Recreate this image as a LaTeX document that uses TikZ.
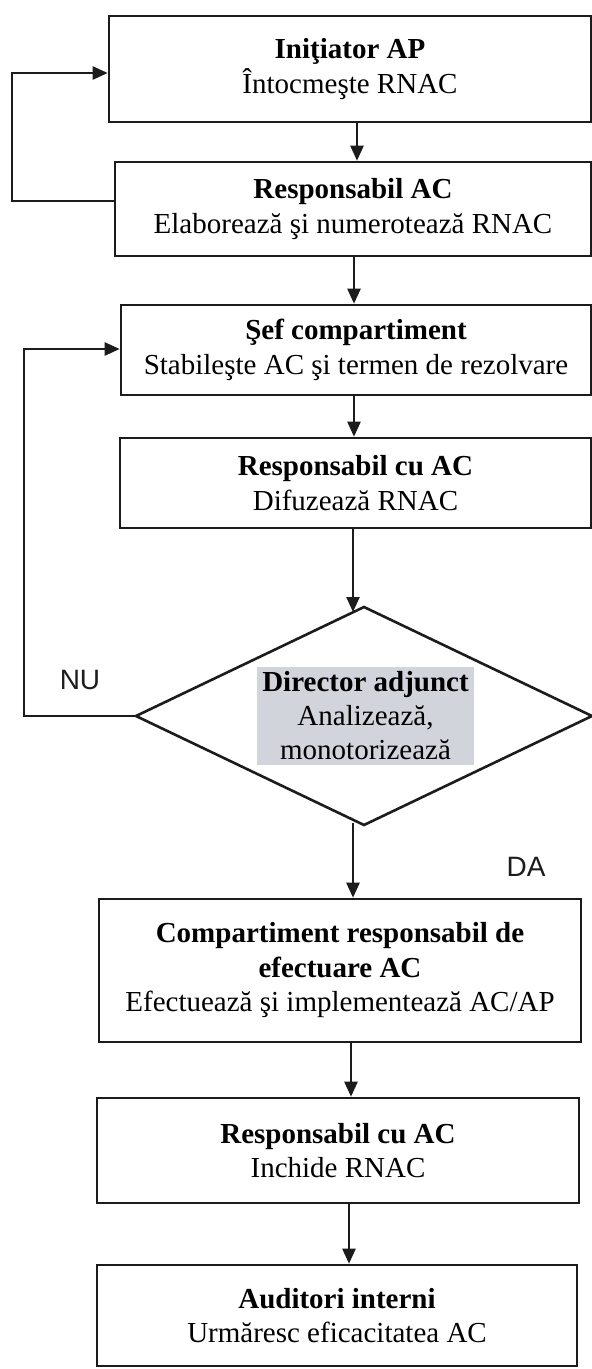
\documentclass[tikz,border=0pt]{standalone}
\usepackage{fontspec}
\setmainfont{Liberation Serif}
\newfontfamily\lsans{Liberation Sans}
\usetikzlibrary{arrows.meta,calc}
\definecolor{ink}{RGB}{28,28,28}
\definecolor{hl}{RGB}{210,212,220}
\begin{document}
\begin{tikzpicture}[x=1pt,y=1pt,
  box/.style={draw=ink, line width=2.6pt, inner sep=0pt, align=center,
    font=\fontsize{29}{34.5}\selectfont},
  arr/.style={draw=ink, line width=2.4pt, -{Triangle[length=15pt,width=13pt]}},
  lbl/.style={font=\lsans\fontsize{28}{30}\selectfont, text=ink, inner sep=0pt}]
\useasboundingbox (0,0) rectangle (592,-1369);
\fill[white] (0,0) rectangle (592,-1369);

% boxes
\node[box, minimum width=482pt, minimum height=106pt] (b1) at (350,-69)
  {\textbf{Iniţiator AP}\\Întocmeşte RNAC};
\node[box, minimum width=476pt, minimum height=94pt] (b2) at (353,-209)
  {\textbf{Responsabil AC}\\Elaborează şi numerotează RNAC};
\node[box, minimum width=470pt, minimum height=90pt] (b3) at (356,-350)
  {\textbf{Şef compartiment}\\Stabileşte AC şi termen de rezolvare};
\node[box, minimum width=471pt, minimum height=90pt] (b4) at (355.5,-483)
  {\textbf{Responsabil cu AC}\\Difuzează RNAC};

% decision diamond
\coordinate (dtop) at (364,-607);
\coordinate (dleft) at (136,-716);
\coordinate (dright) at (592,-716);
\coordinate (dbot) at (364,-825);
\draw[ink, line width=2.6pt, line join=miter] (dtop) -- (dright) -- (dbot) -- (dleft) -- cycle;
\node[fill=hl, inner sep=0pt, minimum width=217pt, minimum height=98pt, align=center,
  font=\fontsize{29}{34}\selectfont] (g) at (365.5,-716)
  {\textbf{Director adjunct}\\Analizează,\\monotorizează};

\node[box, minimum width=482pt, minimum height=143pt] (b5) at (340,-970.5)
  {\textbf{Compartiment responsabil de}\\\textbf{efectuare AC}\\Efectuează şi implementează AC/AP};
\node[box, minimum width=482pt, minimum height=105pt] (b6) at (338,-1150.5)
  {\textbf{Responsabil cu AC}\\Inchide RNAC};
\node[box, minimum width=480pt, minimum height=101pt] (b7) at (337,-1315.5)
  {\textbf{Auditori interni}\\Urmăresc eficacitatea AC};

% labels
\node[lbl] (nu) at (80,-680) {NU};
\node[lbl] (da) at (526,-867) {DA};

% main arrows
\draw[arr] ([xshift=7pt]b1.south) -- ([xshift=4pt]b2.north);
\draw[arr] ([xshift=1pt]b2.south) -- ([xshift=-2pt]b3.north);
\draw[arr] ([xshift=-2pt]b3.south) -- ([xshift=-1.5pt]b4.north);
\draw[arr] ([xshift=-2.5pt]b4.south) -- ([xshift=-11pt,yshift=-5pt]dtop);
\draw[arr] ([xshift=-11pt,yshift=2pt]dbot) -- ([xshift=13pt]b5.north);
\draw[arr] ([xshift=11pt]b5.south) -- ([xshift=13pt]b6.north);
\draw[arr] ([xshift=11pt]b6.south) -- ([xshift=12pt]b7.north);

% feedback loops
\draw[arr] ([yshift=8pt]b2.west) -- ++(-102,0) |- ([yshift=-4pt]b1.west);
\draw[arr] (dleft) -- ++(-112,0) |- ([yshift=1pt]b3.west);
\end{tikzpicture}
\end{document}
